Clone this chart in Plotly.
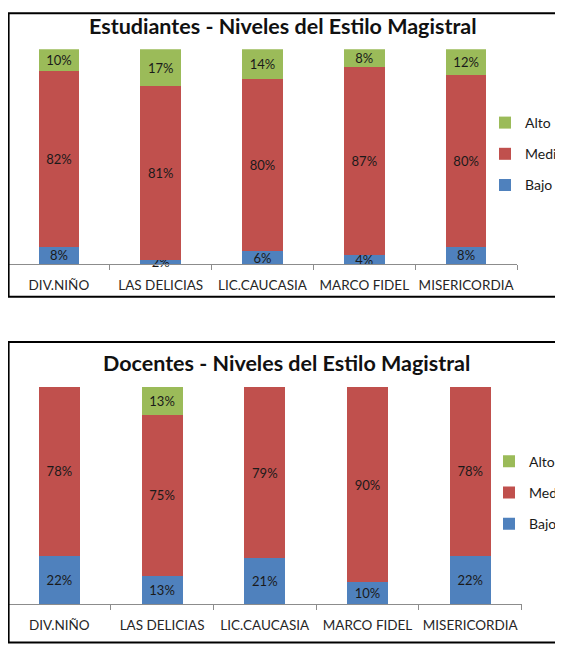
import plotly.graph_objects as go

# ---- data ----
categories = ["DIV.NIÑO", "LAS DELICIAS", "LIC.CAUCASIA", "MARCO FIDEL", "MISERICORDIA"]
series_names = ["Bajo", "Medio", "Alto"]
legend_rank = {"Alto": 1, "Medio": 2, "Bajo": 3}
est_bajo = [8, 2, 6, 4, 8]
est_medio = [82, 81, 80, 87, 80]
est_alto = [10, 17, 14, 8, 12]
doc_bajo = [22, 13, 21, 10, 22]
doc_medio = [78, 75, 79, 90, 78]
doc_alto = [0, 13, 0, 0, 0]
titles = ["Estudiantes - Niveles del Estilo Magistral",
          "Docentes - Niveles del Estilo Magistral"]

colors = {"Bajo": "#4F81BD", "Medio": "#C0504D", "Alto": "#9BBB59"}
OFF = 8  # page body margin
W, H = 563 - OFF, 647 - OFF
FONT = "Lato"


def px(x):
    return (x - OFF) / W


def py(y):
    return 1 - (y - OFF) / H


fig = go.Figure()

charts = [
    ("e", {"Bajo": est_bajo, "Medio": est_medio, "Alto": est_alto}, "x", "y", "legend"),
    ("d", {"Bajo": doc_bajo, "Medio": doc_medio, "Alto": doc_alto}, "x2", "y2", "legend2"),
]
for key, vals, xa, ya, lg in charts:
    for name in series_names:
        v = vals[name]
        fig.add_trace(go.Bar(
            x=categories, y=v, name=name,
            marker=dict(color=colors[name], line=dict(width=0)),
            text=[f"{t}%" if t else "" for t in v],
            textposition="inside", insidetextanchor="middle",
            textangle=0, constraintext="none",
            cliponaxis=False,
            textfont=dict(family=FONT, size=13, color="#1a1a1a"),
            xaxis=xa, yaxis=ya, legend=lg,
            legendgroup=key + name, legendrank=legend_rank[name],
            hoverinfo="skip",
        ))

axis_common = dict(
    type="category", showline=True, linecolor="#8c8c8c", linewidth=1,
    ticks="outside", tickson="boundaries", ticklen=5, tickcolor="#8c8c8c",
    tickfont=dict(family=FONT, size=13.5, color="#262626"), tickangle=0,
    automargin=False,
    showgrid=False, zeroline=False, fixedrange=True, ticklabelstandoff=9,
)
yaxis_common = dict(range=[0, 100.02], visible=False, showgrid=False, fixedrange=True,
                    automargin=False)

legend_common = dict(
    xanchor="left", yanchor="middle",
    traceorder="grouped", tracegroupgap=10,
    font=dict(family=FONT, size=14, color="#1a1a1a"),
    bgcolor="rgba(0,0,0,0)", itemwidth=30,
)

fig.update_layout(
    width=W, height=H,
    margin=dict(l=0, r=0, t=0, b=0, autoexpand=False),
    paper_bgcolor="white", plot_bgcolor="white",
    barmode="stack", barnorm="percent", bargap=0.6,
    xaxis=dict(domain=[px(8), px(517)], anchor="y", **axis_common),
    yaxis=dict(domain=[py(264), py(49.3)], anchor="x", **yaxis_common),
    xaxis2=dict(domain=[px(8), px(521.6)], anchor="y2", **axis_common),
    yaxis2=dict(domain=[py(604), py(386.7)], anchor="x2", **yaxis_common),
    legend=dict(x=px(485), y=py(154), **legend_common),
    legend2=dict(x=px(489), y=py(492.7), **legend_common),
    showlegend=True,
    annotations=[
        dict(text=f"<b>{titles[0]}</b>", x=px(283), y=py(26), xref="paper", yref="paper",
             showarrow=False, xanchor="center", yanchor="middle",
             font=dict(family=FONT, size=21.5, color="#111111")),
        dict(text=f"<b>{titles[1]}</b>", x=px(286), y=py(363.3), xref="paper", yref="paper",
             showarrow=False, xanchor="center", yanchor="middle",
             font=dict(family=FONT, size=21.5, color="#111111")),
    ],
    shapes=[
        dict(type="rect", xref="paper", yref="paper", x0=px(8.6), x1=px(562), y0=py(296.7), y1=py(13.3),
             line=dict(color="black", width=2)),
        dict(type="rect", xref="paper", yref="paper", x0=px(8.6), x1=px(562), y0=py(642.5), y1=py(342),
             line=dict(color="black", width=2)),
    ],
)

fig.write_html("out.html")
